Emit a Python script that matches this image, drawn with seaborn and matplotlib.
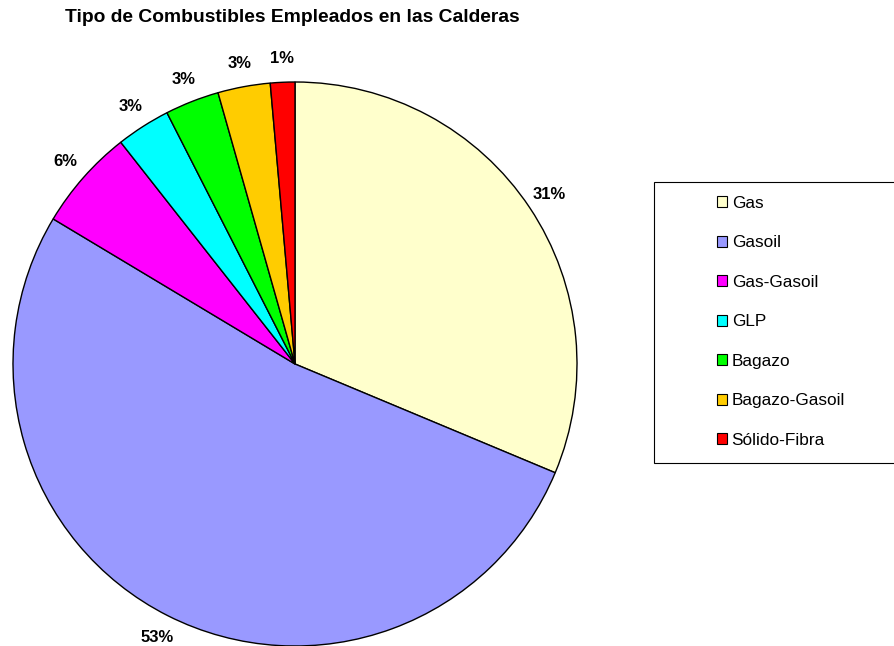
import matplotlib
matplotlib.use("Agg")
import matplotlib.pyplot as plt
import seaborn as sns
from matplotlib.patches import Rectangle, Patch

sns.set_theme(style="white")
plt.rcParams['font.family'] = ['Liberation Sans', 'DejaVu Sans']
plt.rcParams['text.color'] = 'black'

categories = ["Gas", "Gasoil", "Gas-Gasoil", "GLP", "Bagazo", "Bagazo-Gasoil", "Sólido-Fibra"]
shares = [31.3, 52.3, 5.8, 3.1, 3.1, 3.0, 1.4]
pct_labels = ["31%", "53%", "6%", "3%", "3%", "3%", "1%"]
colors = ["#FFFFCC", "#9999FF", "#FF00FF", "#00FFFF", "#00FF00", "#FFCC00", "#FF0000"]
title = "Tipo de Combustibles Empleados en las Calderas"

W, H = 895, 646
fig = plt.figure(figsize=(W / 100, H / 100), dpi=100)
fig.patch.set_facecolor("white")

cx, cy, r = 295, 364, 282
pad = 1.05
ax = fig.add_axes([(cx - r * pad) / W, 1 - (cy + r * pad) / H, 2 * r * pad / W, 2 * r * pad / H])
wedges, texts = ax.pie(
    shares, colors=colors, labels=pct_labels, startangle=90, counterclock=False,
    labeldistance=1.085,
    wedgeprops=dict(edgecolor="black", linewidth=1.0),
    textprops=dict(fontsize=12, fontweight="bold", color="black"),
)
for t in texts:
    t.set_clip_on(False)
    t.set_horizontalalignment("center")
    t.set_verticalalignment("center")
for w in wedges:
    w.set_clip_on(False)
ax.set_xlim(-pad, pad)
ax.set_ylim(-pad, pad)
ax.set_aspect("auto")
ax.axis("off")

fig.text(292 / W, 1 - 18 / H, title, ha="center", va="center", fontsize=13.9,
         fontweight="bold", color="black")

# legend frame
x0, y0, x1, y1 = 654, 182, 900, 463
fig.patches.append(Rectangle((x0 / W, 1 - y1 / H), (x1 - x0) / W, (y1 - y0) / H,
                             transform=fig.transFigure, facecolor="white", edgecolor="black",
                             linewidth=0.8, zorder=0))
handles = [Patch(facecolor=c, edgecolor="black", linewidth=0.8) for c in colors]
leg = fig.legend(handles, categories, loc="upper left",
                 bbox_to_anchor=(717 / W, 1 - 196 / H), frameon=False,
                 fontsize=12.4, handlelength=0.6, handleheight=0.6,
                 handletextpad=0.25, labelspacing=1.42, borderaxespad=0, borderpad=0)
for t in leg.get_texts():
    t.set_color("black")

fig.savefig("out.png", dpi=100, facecolor="white")
